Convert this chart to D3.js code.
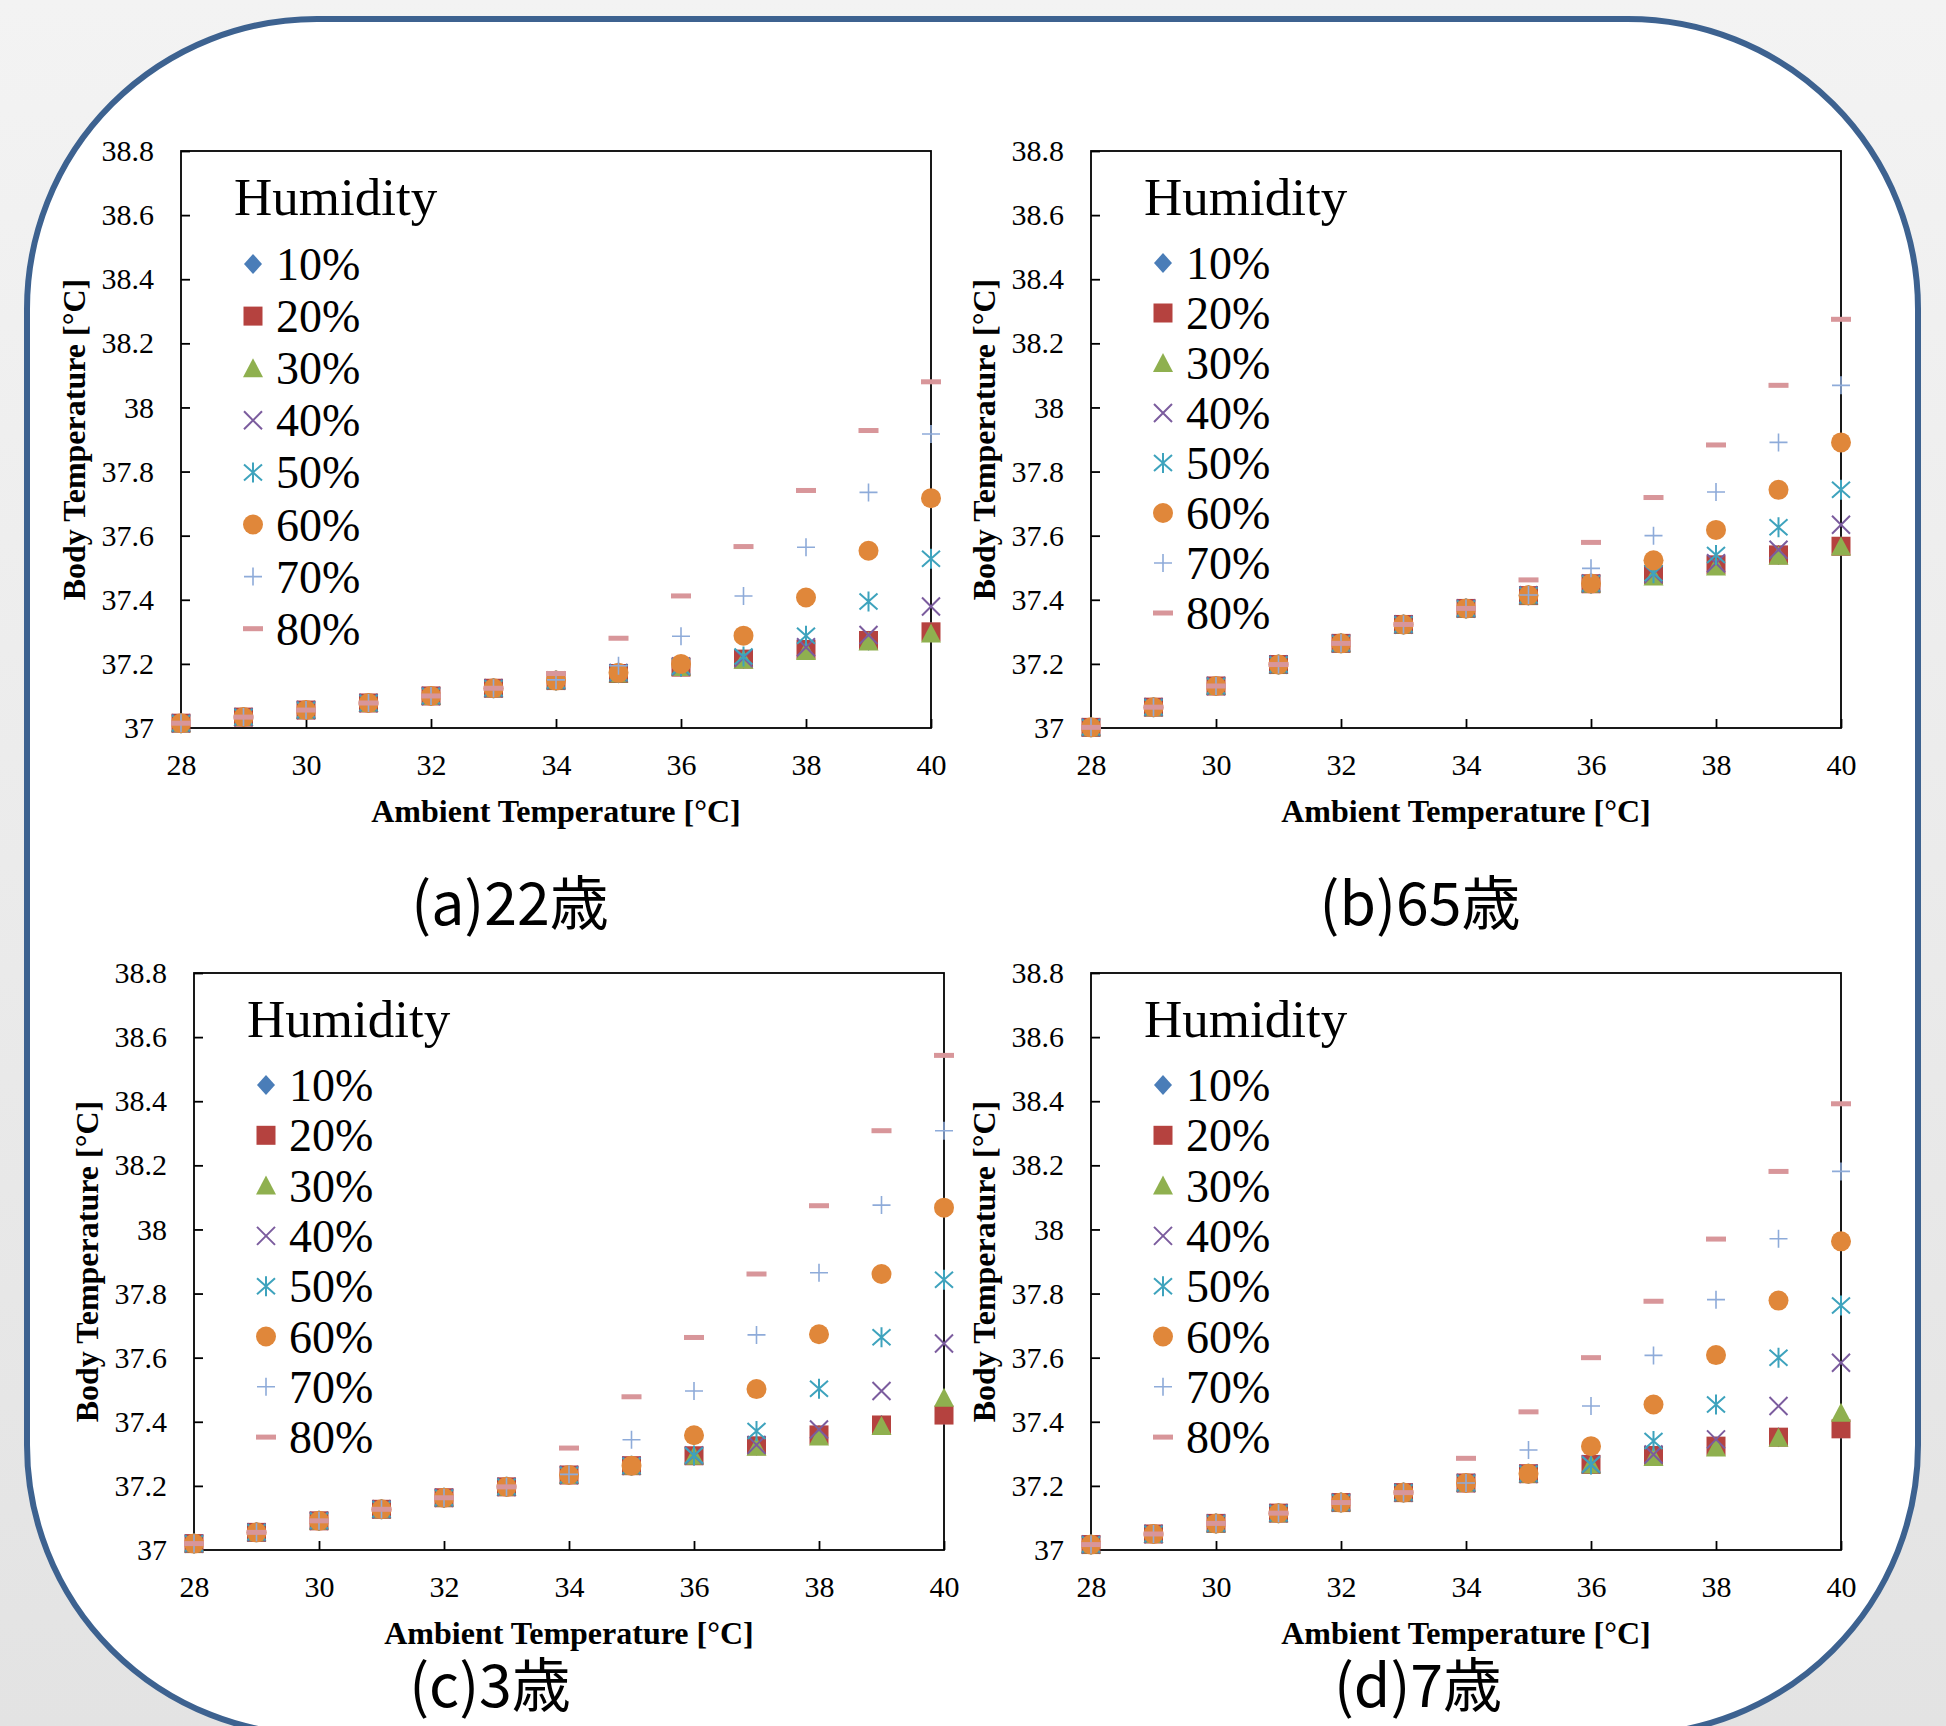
<!DOCTYPE html>
<html><head><meta charset="utf-8">
<script src="https://cdn.jsdelivr.net/npm/d3@7"></script>
<style>html,body{margin:0;padding:0;background:#f0f0f0;}svg{display:block;}</style>
</head><body>
<script>
// ---- data ----
const ambient = [28,29,30,31,32,33,34,35,36,37,38,39,40];
const humidity = ["10%","20%","30%","40%","50%","60%","70%","80%"];
const yTicks = [37,37.2,37.4,37.6,37.8,38,38.2,38.4,38.6,38.8];
const xTicks = [28,30,32,34,36,38,40];

// (a) 22 years
const body22 = [
 [37.015,37.034,37.056,37.078,37.100,37.124,37.148,37.170,37.190,37.215,37.245,37.272,37.300],
 [37.015,37.034,37.056,37.078,37.100,37.124,37.148,37.170,37.190,37.215,37.245,37.273,37.300],
 [37.015,37.034,37.056,37.078,37.100,37.124,37.148,37.170,37.190,37.213,37.240,37.270,37.295],
 [37.015,37.034,37.056,37.078,37.100,37.124,37.148,37.172,37.192,37.218,37.252,37.290,37.379],
 [37.015,37.034,37.056,37.078,37.100,37.124,37.148,37.172,37.192,37.223,37.288,37.395,37.528],
 [37.015,37.034,37.056,37.078,37.100,37.124,37.148,37.172,37.200,37.288,37.407,37.553,37.717],
 [37.015,37.034,37.056,37.078,37.100,37.124,37.150,37.194,37.286,37.412,37.564,37.735,37.917],
 [37.015,37.034,37.056,37.078,37.100,37.124,37.170,37.280,37.412,37.566,37.741,37.928,38.080]
];
// (b) 65 years
const body65 = [
 [37.002,37.065,37.131,37.198,37.264,37.323,37.373,37.413,37.450,37.478,37.509,37.540,37.567],
 [37.002,37.065,37.131,37.198,37.264,37.323,37.373,37.413,37.450,37.478,37.509,37.540,37.567],
 [37.002,37.065,37.131,37.198,37.264,37.323,37.373,37.413,37.450,37.473,37.504,37.537,37.566],
 [37.002,37.065,37.131,37.198,37.264,37.323,37.373,37.414,37.451,37.480,37.514,37.556,37.634],
 [37.002,37.065,37.131,37.198,37.264,37.323,37.373,37.414,37.451,37.483,37.540,37.626,37.743],
 [37.002,37.065,37.131,37.198,37.264,37.323,37.373,37.414,37.451,37.523,37.618,37.743,37.891],
 [37.002,37.065,37.131,37.198,37.264,37.323,37.373,37.415,37.498,37.600,37.736,37.891,38.069],
 [37.002,37.065,37.131,37.198,37.264,37.323,37.373,37.462,37.579,37.719,37.883,38.069,38.275]
];
// (c) 3 years
const body3 = [
 [37.020,37.055,37.091,37.127,37.163,37.197,37.234,37.263,37.294,37.325,37.359,37.390,37.421],
 [37.020,37.055,37.091,37.127,37.163,37.197,37.234,37.263,37.294,37.325,37.359,37.390,37.421],
 [37.020,37.055,37.091,37.127,37.163,37.197,37.234,37.263,37.294,37.322,37.354,37.387,37.475],
 [37.020,37.055,37.091,37.127,37.163,37.197,37.234,37.263,37.295,37.328,37.376,37.496,37.644],
 [37.020,37.055,37.091,37.127,37.163,37.197,37.234,37.263,37.295,37.371,37.503,37.664,37.843],
 [37.020,37.055,37.091,37.127,37.163,37.197,37.234,37.263,37.358,37.502,37.673,37.861,38.068],
 [37.020,37.055,37.091,37.127,37.163,37.197,37.236,37.344,37.496,37.671,37.865,38.076,38.308],
 [37.020,37.055,37.091,37.127,37.163,37.197,37.318,37.478,37.663,37.861,38.074,38.308,38.543]
];
// (d) 7 years
const body7 = [
 [37.017,37.050,37.083,37.115,37.148,37.179,37.209,37.238,37.267,37.295,37.324,37.352,37.378],
 [37.017,37.050,37.083,37.115,37.148,37.179,37.209,37.238,37.267,37.295,37.324,37.352,37.378],
 [37.017,37.050,37.083,37.115,37.148,37.179,37.209,37.238,37.267,37.290,37.320,37.350,37.428],
 [37.017,37.050,37.083,37.115,37.148,37.179,37.209,37.238,37.267,37.298,37.345,37.449,37.584],
 [37.017,37.050,37.083,37.115,37.148,37.179,37.209,37.238,37.267,37.340,37.454,37.600,37.763],
 [37.017,37.050,37.083,37.115,37.148,37.179,37.209,37.238,37.324,37.454,37.608,37.778,37.963],
 [37.017,37.050,37.083,37.115,37.148,37.179,37.209,37.312,37.449,37.607,37.781,37.971,38.181],
 [37.017,37.050,37.083,37.115,37.148,37.179,37.286,37.431,37.600,37.776,37.970,38.181,38.392]
];
const captions = ["(a)22歳","(b)65歳","(c)3歳","(d)7歳"];

// ---- styles ----
const colors = ["#4a7db8","#b5423f","#8fb04f","#7b5c9e","#3ea3bd","#e0873a","#8eabd9","#d8969a"];
const serif = "'Liberation Serif','Times New Roman',serif";

const W = 1946, H = 1726;
const svg = d3.select("body").append("svg").attr("width", W).attr("height", H);
const defs = svg.append("defs");
const bg = defs.append("linearGradient").attr("id","bg").attr("x1",0).attr("y1",0).attr("x2",0).attr("y2",1);
bg.append("stop").attr("offset","0").attr("stop-color","#f3f3f3");
bg.append("stop").attr("offset","1").attr("stop-color","#e3e3e3");
svg.append("rect").attr("width",W).attr("height",H).attr("fill","url(#bg)");
svg.append("rect").attr("x",27).attr("y",19).attr("width",1891).attr("height",1716)
  .attr("rx",290).attr("ry",290).attr("fill","#ffffff").attr("stroke","#3d6290").attr("stroke-width",6);

// marker drawing
function drawMarker(g, i, cx, cy) {
  const c = colors[i];
  const s = g.append("g").attr("transform", `translate(${cx},${cy})`);
  if (i === 0) s.append("path").attr("d","M0,-10L9,0L0,10L-9,0Z").attr("fill",c);
  else if (i === 1) s.append("rect").attr("x",-9.5).attr("y",-9.5).attr("width",19).attr("height",19).attr("fill",c);
  else if (i === 2) s.append("path").attr("d","M0,-10L10,9L-10,9Z").attr("fill",c);
  else if (i === 3) s.append("path").attr("d","M-9,-9L9,9M-9,9L9,-9").attr("stroke",c).attr("stroke-width",2).attr("fill","none");
  else if (i === 4) s.append("path").attr("d","M-9,-8L9,8M-9,8L9,-8M0,-10L0,10").attr("stroke",c).attr("stroke-width",2).attr("fill","none");
  else if (i === 5) s.append("circle").attr("r",10).attr("fill",c);
  else if (i === 6) s.append("path").attr("d","M-9,0L9,0M0,-9L0,9").attr("stroke",c).attr("stroke-width",1.6).attr("fill","none");
  else s.append("rect").attr("x",-10).attr("y",-2.5).attr("width",20).attr("height",5).attr("fill",c);
}

const panels = [
  {data: body22, left:181, top:151, capX:510, capY:925, legFirst:264, legStep:52.1},
  {data: body65, left:1091, top:151, capX:1420, capY:925, legFirst:263, legStep:50},
  {data: body3,  left:194, top:973, capX:490, capY:1707, legFirst:1085, legStep:50.3},
  {data: body7,  left:1091, top:973, capX:1418, capY:1707, legFirst:1085, legStep:50.3}
];
const PW = 750, PH = 577;

panels.forEach((p, k) => {
  const g = svg.append("g").attr("transform", `translate(${p.left},${p.top})`);
  const x = d3.scaleLinear().domain([28,40]).range([0,PW]);
  const y = d3.scaleLinear().domain([37,38.8]).range([PH,0]);

  // axes (ticks inside)
  const xa = g.append("g").attr("transform",`translate(0,${PH})`)
    .call(d3.axisBottom(x).tickValues(xTicks).tickSizeInner(-9).tickSizeOuter(0).tickPadding(26));
  const ya = g.append("g")
    .call(d3.axisLeft(y).tickValues(yTicks).tickSizeInner(-9).tickSizeOuter(0).tickPadding(27)
      .tickFormat(d => String(+d.toFixed(1))));
  [xa, ya].forEach(a => {
    a.select(".domain").remove();
    a.selectAll("line").attr("stroke","#000").attr("stroke-width",1.8);
    a.selectAll("text").attr("font-family",serif).attr("font-size",30).attr("fill","#000");
  });
  xa.selectAll("text").attr("dy","0.71em");
  g.append("rect").attr("width",PW).attr("height",PH).attr("fill","none").attr("stroke","#000").attr("stroke-width",1.8);

  // points
  p.data.forEach((series, i) => {
    series.forEach((v, j) => drawMarker(g, i, x(ambient[j]), y(v)));
  });

  // axis titles
  g.append("text").attr("x",PW/2).attr("y",PH+94).attr("text-anchor","middle")
    .attr("font-family",serif).attr("font-weight","bold").attr("font-size",32).text("Ambient Temperature [°C]");
  g.append("text").attr("transform",`translate(-96,${PH/2}) rotate(-90)`).attr("text-anchor","middle")
    .attr("font-family",serif).attr("font-weight","bold").attr("font-size",32).text("Body Temperature [°C]");

  // legend
  const lg = svg.append("g");
  lg.append("text").attr("x",p.left+53).attr("y",p.top+64).attr("font-family",serif).attr("font-size",53).text("Humidity");
  humidity.forEach((h, i) => {
    const cy = p.legFirst + i*p.legStep;
    drawMarker(lg, i, p.left+72, cy);
    lg.append("text").attr("x",p.left+95).attr("y",cy+16).attr("font-family",serif).attr("font-size",46).text(h);
  });

  // caption
  svg.append("text").attr("x",p.capX).attr("y",p.capY).attr("text-anchor","middle")
    .attr("font-family","'Noto Sans CJK JP','Noto Sans',sans-serif").attr("font-size",59).text(captions[k]);
});
</script>
</body></html>
